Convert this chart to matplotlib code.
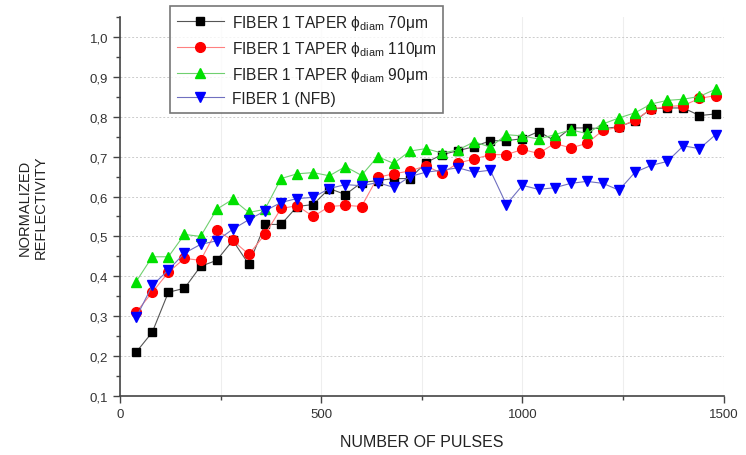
import matplotlib
matplotlib.use("Agg")
import matplotlib.pyplot as plt
from matplotlib.ticker import MultipleLocator, FuncFormatter

plt.rcParams["font.family"] = ["Liberation Sans", "DejaVu Sans"]
plt.rcParams["mathtext.fontset"] = "custom"
plt.rcParams["mathtext.rm"] = "Liberation Sans"
plt.rcParams["mathtext.it"] = "Liberation Sans:italic"

pulses = [40, 80, 120, 160, 200, 240, 280, 320, 360, 400, 440, 480, 520,
          560, 600, 640, 680, 720, 760, 800, 840, 880, 920, 960, 1000, 1040,
          1080, 1120, 1160, 1200, 1240, 1280, 1320, 1360, 1400, 1440, 1480]

taper_70 = [0.21, 0.26, 0.36, 0.37, 0.425, 0.44, 0.49, 0.43, 0.53, 0.53,
            0.575, 0.58, 0.62, 0.605, 0.635, 0.64, 0.645, 0.645, 0.685, 0.705,
            0.715, 0.725, 0.74, 0.74, 0.745, 0.763, 0.74, 0.772, 0.772, 0.77,
            0.775, 0.79, 0.82, 0.822, 0.822, 0.803, 0.807]

taper_110 = [0.31, 0.36, 0.41, 0.445, 0.44, 0.515, 0.49, 0.455, 0.505, 0.57,
             0.577, 0.55, 0.575, 0.578, 0.575, 0.648, 0.657, 0.664, 0.677, 0.658,
             0.684, 0.694, 0.705, 0.705, 0.718, 0.708, 0.733, 0.722, 0.733, 0.766,
             0.774, 0.792, 0.819, 0.826, 0.828, 0.846, 0.853]

taper_90 = [0.387, 0.449, 0.449, 0.505, 0.50, 0.568, 0.593, 0.56, 0.568, 0.645,
            0.657, 0.66, 0.652, 0.675, 0.653, 0.70, 0.683, 0.714, 0.72, 0.709,
            0.717, 0.737, 0.724, 0.755, 0.752, 0.744, 0.755, 0.767, 0.758, 0.782,
            0.797, 0.81, 0.832, 0.841, 0.844, 0.851, 0.869]

nfb = [0.297, 0.377, 0.416, 0.458, 0.48, 0.489, 0.518, 0.542, 0.564, 0.585,
       0.595, 0.598, 0.62, 0.63, 0.627, 0.635, 0.623, 0.65, 0.661, 0.666,
       0.672, 0.661, 0.666, 0.58, 0.628, 0.618, 0.622, 0.633, 0.638, 0.633,
       0.616, 0.661, 0.678, 0.688, 0.727, 0.72, 0.755]

labels = ["FIBER 1 TAPER \u03d5$_{\\mathrm{diam}}$ 70\u03bcm",
          "FIBER 1 TAPER \u03d5$_{\\mathrm{diam}}$ 110\u03bcm",
          "FIBER 1 TAPER \u03d5$_{\\mathrm{diam}}$ 90\u03bcm",
          "FIBER 1 (NFB)"]

fig = plt.figure(figsize=(7.46, 4.56), dpi=100)
ax = fig.add_axes([0.161, 0.1294, 0.809, 0.8311])

ax.plot(pulses, taper_70, color="#555555", lw=0.8, marker="s", ms=6,
        mfc="black", mec="black", label=labels[0])
ax.plot(pulses, taper_110, color="#ff8080", lw=0.8, marker="o", ms=7,
        mfc="#ff0000", mec="#ff0000", label=labels[1])
ax.plot(pulses, taper_90, color="#70d070", lw=0.8, marker="^", ms=7.5,
        mfc="#00e000", mec="#00e000", label=labels[2])
ax.plot(pulses, nfb, color="#7070c0", lw=0.8, marker="v", ms=7.5,
        mfc="#0000ff", mec="#0000ff", label=labels[3])

ax.set_xlim(0, 1500)
ax.set_ylim(0.1, 1.05)
ax.xaxis.set_major_locator(MultipleLocator(500))
ax.xaxis.set_minor_locator(MultipleLocator(250))
ax.yaxis.set_major_locator(MultipleLocator(0.1))
ax.yaxis.set_minor_locator(MultipleLocator(0.05))
ax.yaxis.set_major_formatter(FuncFormatter(lambda v, p: f"{v:.1f}".replace(".", ",")))

ax.grid(axis="y", which="major", color="#cccccc", ls=(0, (2, 2)), lw=0.7)
ax.grid(axis="x", which="both", color="#eeeeee", ls="-", lw=0.8)

for s in ["top", "right"]:
    ax.spines[s].set_visible(False)
for s in ["left", "bottom"]:
    ax.spines[s].set_color("#444444")
    ax.spines[s].set_linewidth(1.2)

ax.tick_params(which="major", direction="out", length=5, width=1, colors="#444444",
               labelsize=9.5, labelcolor="#333333")
ax.tick_params(which="minor", direction="out", length=3, width=1, colors="#444444")

ax.set_xlabel("NUMBER OF PULSES", fontsize=11.5, color="#222222", labelpad=10)
ax.set_ylabel("NORMALIZED\nREFLECTIVITY", fontsize=10.5, color="#222222")
ax.yaxis.set_label_coords(-0.12, 0.5)

leg = ax.legend(loc="upper left", bbox_to_anchor=(0.07, 1.05), fontsize=11.2,
                frameon=True, fancybox=False, edgecolor="#555555",
                handlelength=3.0, labelspacing=0.45, borderpad=0.45,
                handletextpad=0.5)
leg.get_frame().set_linewidth(1.2)
for t in leg.get_texts():
    t.set_color("#222222")

fig.savefig("out.png", dpi=100)
